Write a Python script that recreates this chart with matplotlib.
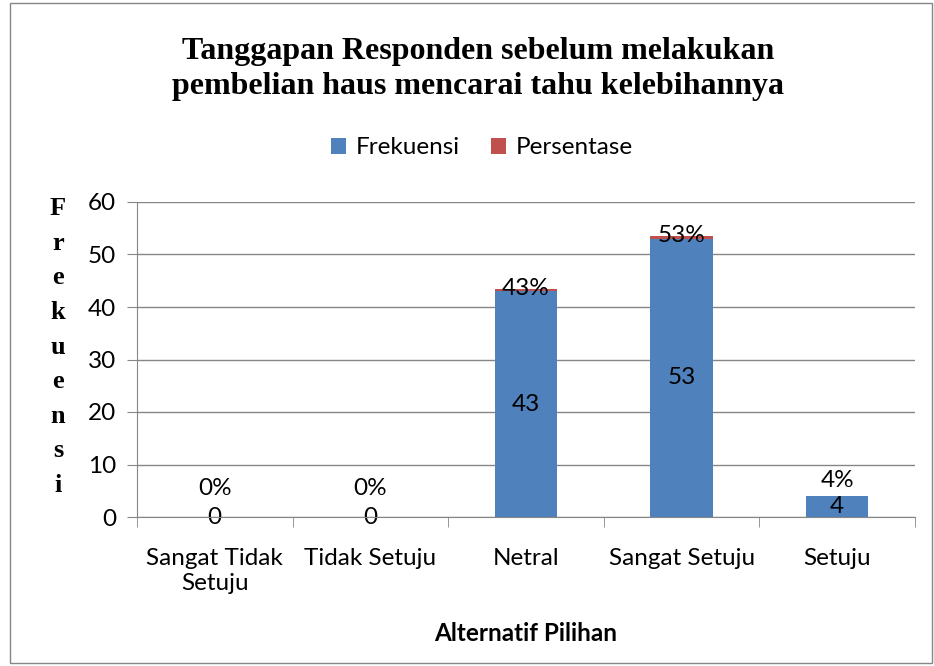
import numpy as np
import matplotlib.pyplot as plt
from matplotlib.patches import Rectangle

categories = ["Sangat Tidak\nSetuju", "Tidak Setuju", "Netral", "Sangat Setuju", "Setuju"]
frekuensi = [0, 0, 43, 53, 4]
persentase = [0.00, 0.00, 0.43, 0.53, 0.04]
title = "Tanggapan Responden sebelum melakukan\npembelian haus mencarai tahu kelebihannya"


def main():
    fig = plt.figure(figsize=(9.34, 6.66), dpi=100)
    ax = fig.add_axes([137 / 934, 1 - 517 / 666, 778 / 934, 315 / 666])

    x = np.arange(len(categories))
    blue = "#4f81bd"
    red = "#c0504d"
    grid = "#868686"
    body = "Lato"
    fs = 17.5

    ax.bar(x, frekuensi, width=0.4, color=blue, zorder=3, label="Frekuensi")
    ax.bar(x, persentase, width=0.4, bottom=frekuensi, color=red, zorder=3, label="Persentase")

    for i, (f, p) in enumerate(zip(frekuensi, persentase)):
        ax.text(i, f / 2, f"{f}", ha="center", va="center", fontsize=fs, family=body, zorder=4)
        top = f + p
        y = top if top >= 10 else max(top + 3, 5.5)
        ax.text(i, y, f"{p:.0%}", ha="center", va="center", fontsize=fs, family=body, zorder=4)

    ax.set_xlim(-0.5, len(categories) - 0.5)
    ax.set_ylim(0, 60)
    ax.set_yticks(np.arange(0, 61, 10))
    ax.yaxis.grid(True, color=grid, linewidth=1, zorder=0)
    ax.set_xticks(x)
    ax.set_xticklabels(categories, fontsize=fs, family=body, linespacing=1.25)
    ax.set_xticks(np.arange(-0.5, len(categories)), minor=True)
    ax.tick_params(axis="x", which="major", length=0, pad=22)
    ax.tick_params(axis="x", which="minor", length=7, color=grid)
    ax.tick_params(axis="y", length=7, color=grid, labelsize=fs, pad=8)
    for lab in ax.get_yticklabels():
        lab.set_family(body)
    for s in ["top", "right"]:
        ax.spines[s].set_visible(False)
    for s in ["left", "bottom"]:
        ax.spines[s].set_color(grid)
        ax.spines[s].set_zorder(5)

    ax.set_xlabel("Alternatif Pilihan", fontsize=fs, family=body, fontweight="bold", labelpad=20)
    fig.text(58 / 934, 1 - 347 / 666, "\n".join("Frekuensi"), ha="center", va="center",
             fontsize=19, family="Liberation Serif", fontweight="bold", linespacing=1.64)

    fig.text(478 / 934, 1 - 69 / 666, title, ha="center", va="center",
             fontsize=23, family="Liberation Serif", fontweight="bold", linespacing=1.25)

    fig.legend(loc="center", bbox_to_anchor=(482 / 934, 1 - 148 / 666), ncol=2, frameon=False,
               prop={"family": body, "size": fs}, handlelength=0.6, handleheight=0.6,
               columnspacing=1.3, handletextpad=0.4)

    fig.patches.append(Rectangle((10 / 934, 3 / 666), 922 / 934, 660 / 666, transform=fig.transFigure,
                                 fill=False, edgecolor=grid, linewidth=1))

    fig.savefig("out.png", dpi=100)


if __name__ == "__main__":
    main()
